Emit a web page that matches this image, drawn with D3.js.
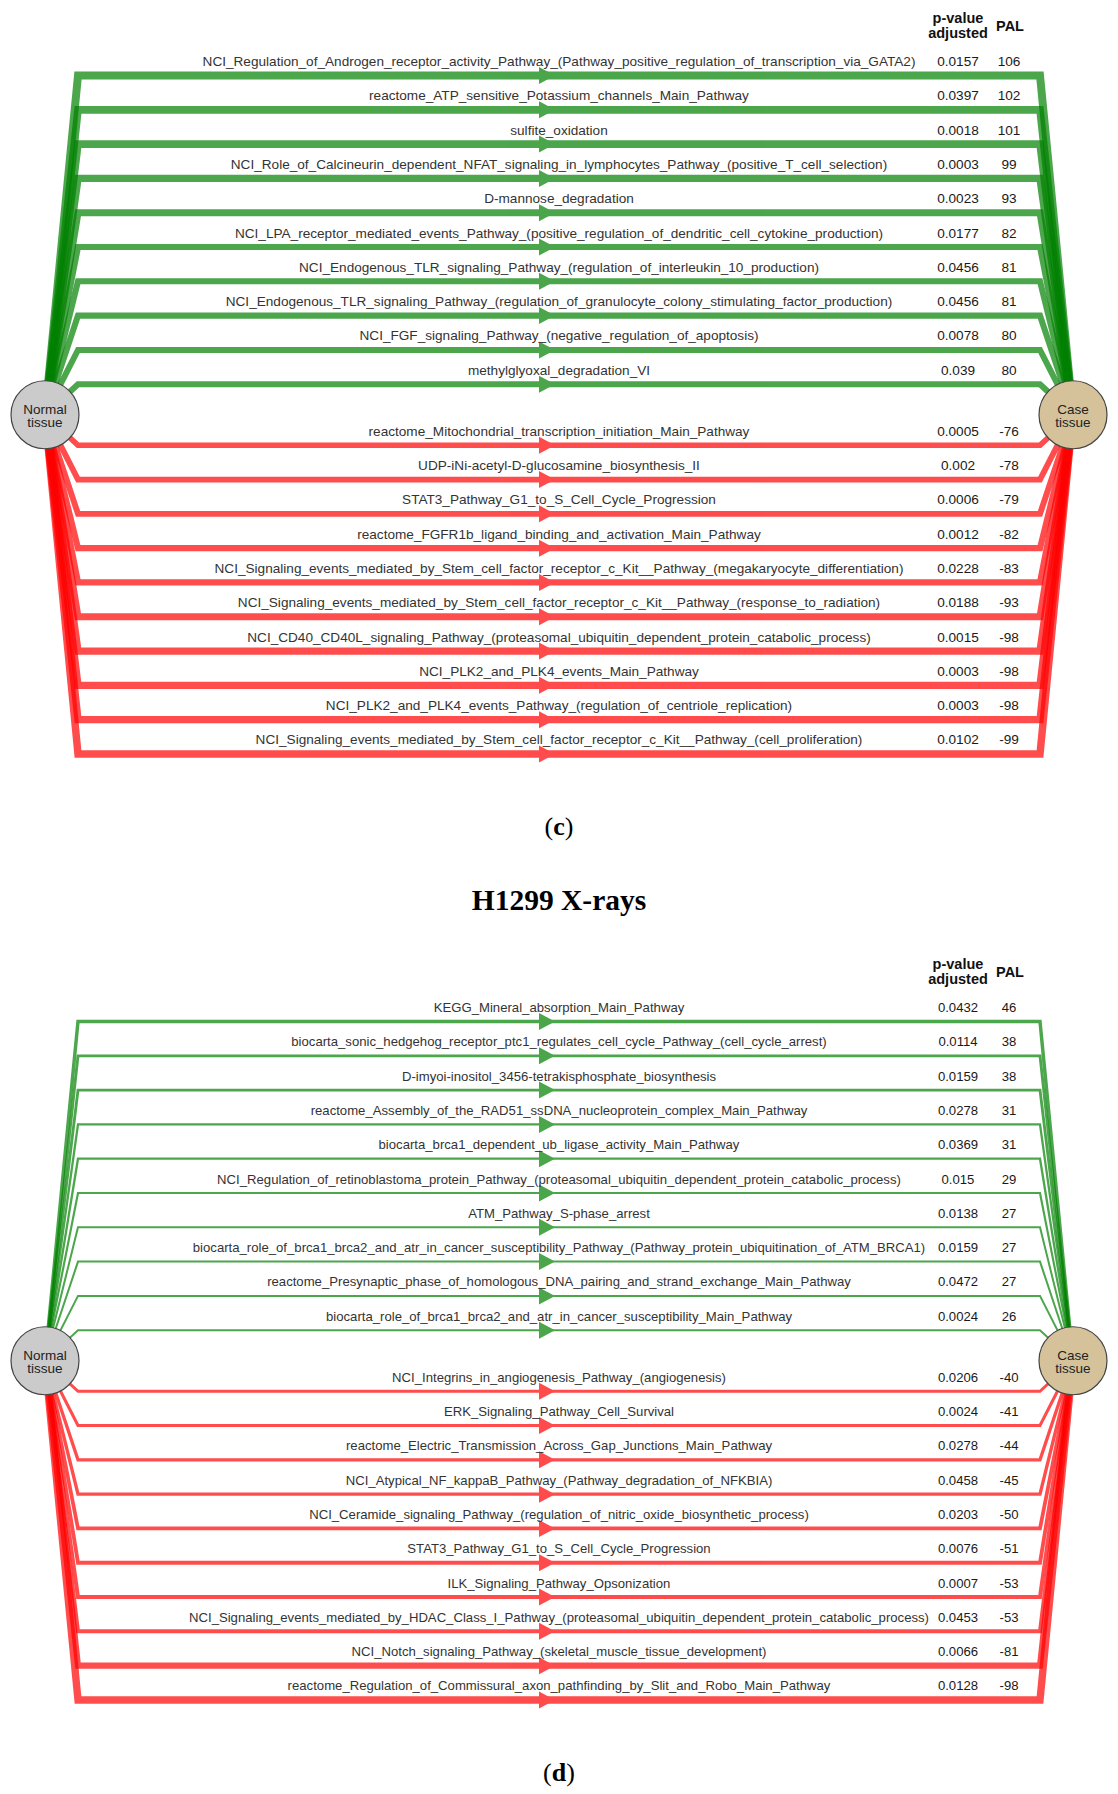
<!DOCTYPE html>
<html>
<head>
<meta charset="utf-8">
<script src="https://cdn.jsdelivr.net/npm/d3@7"></script>
<style>
  body { margin: 0; background: #fff; }
  svg { display: block; }
</style>
</head>
<body>
<div id="chart"></div>
<script>
// panel (c)
var c_pathways = [
    "NCI_Regulation_of_Androgen_receptor_activity_Pathway_(Pathway_positive_regulation_of_transcription_via_GATA2)",
    "reactome_ATP_sensitive_Potassium_channels_Main_Pathway",
    "sulfite_oxidation",
    "NCI_Role_of_Calcineurin_dependent_NFAT_signaling_in_lymphocytes_Pathway_(positive_T_cell_selection)",
    "D-mannose_degradation",
    "NCI_LPA_receptor_mediated_events_Pathway_(positive_regulation_of_dendritic_cell_cytokine_production)",
    "NCI_Endogenous_TLR_signaling_Pathway_(regulation_of_interleukin_10_production)",
    "NCI_Endogenous_TLR_signaling_Pathway_(regulation_of_granulocyte_colony_stimulating_factor_production)",
    "NCI_FGF_signaling_Pathway_(negative_regulation_of_apoptosis)",
    "methylglyoxal_degradation_VI",
    "reactome_Mitochondrial_transcription_initiation_Main_Pathway",
    "UDP-iNi-acetyl-D-glucosamine_biosynthesis_II",
    "STAT3_Pathway_G1_to_S_Cell_Cycle_Progression",
    "reactome_FGFR1b_ligand_binding_and_activation_Main_Pathway",
    "NCI_Signaling_events_mediated_by_Stem_cell_factor_receptor_c_Kit__Pathway_(megakaryocyte_differentiation)",
    "NCI_Signaling_events_mediated_by_Stem_cell_factor_receptor_c_Kit__Pathway_(response_to_radiation)",
    "NCI_CD40_CD40L_signaling_Pathway_(proteasomal_ubiquitin_dependent_protein_catabolic_process)",
    "NCI_PLK2_and_PLK4_events_Main_Pathway",
    "NCI_PLK2_and_PLK4_events_Pathway_(regulation_of_centriole_replication)",
    "NCI_Signaling_events_mediated_by_Stem_cell_factor_receptor_c_Kit__Pathway_(cell_proliferation)"
];
var c_pvalues = ["0.0157", "0.0397", "0.0018", "0.0003", "0.0023", "0.0177", "0.0456", "0.0456", "0.0078", "0.039",
                 "0.0005", "0.002", "0.0006", "0.0012", "0.0228", "0.0188", "0.0015", "0.0003", "0.0003", "0.0102"];
var c_pal = [106, 102, 101, 99, 93, 82, 81, 81, 80, 80,
             -76, -78, -79, -82, -83, -93, -98, -98, -98, -99];

// panel (d)
var d_pathways = [
    "KEGG_Mineral_absorption_Main_Pathway",
    "biocarta_sonic_hedgehog_receptor_ptc1_regulates_cell_cycle_Pathway_(cell_cycle_arrest)",
    "D-imyoi-inositol_3456-tetrakisphosphate_biosynthesis",
    "reactome_Assembly_of_the_RAD51_ssDNA_nucleoprotein_complex_Main_Pathway",
    "biocarta_brca1_dependent_ub_ligase_activity_Main_Pathway",
    "NCI_Regulation_of_retinoblastoma_protein_Pathway_(proteasomal_ubiquitin_dependent_protein_catabolic_process)",
    "ATM_Pathway_S-phase_arrest",
    "biocarta_role_of_brca1_brca2_and_atr_in_cancer_susceptibility_Pathway_(Pathway_protein_ubiquitination_of_ATM_BRCA1)",
    "reactome_Presynaptic_phase_of_homologous_DNA_pairing_and_strand_exchange_Main_Pathway",
    "biocarta_role_of_brca1_brca2_and_atr_in_cancer_susceptibility_Main_Pathway",
    "NCI_Integrins_in_angiogenesis_Pathway_(angiogenesis)",
    "ERK_Signaling_Pathway_Cell_Survival",
    "reactome_Electric_Transmission_Across_Gap_Junctions_Main_Pathway",
    "NCI_Atypical_NF_kappaB_Pathway_(Pathway_degradation_of_NFKBIA)",
    "NCI_Ceramide_signaling_Pathway_(regulation_of_nitric_oxide_biosynthetic_process)",
    "STAT3_Pathway_G1_to_S_Cell_Cycle_Progression",
    "ILK_Signaling_Pathway_Opsonization",
    "NCI_Signaling_events_mediated_by_HDAC_Class_I_Pathway_(proteasomal_ubiquitin_dependent_protein_catabolic_process)",
    "NCI_Notch_signaling_Pathway_(skeletal_muscle_tissue_development)",
    "reactome_Regulation_of_Commissural_axon_pathfinding_by_Slit_and_Robo_Main_Pathway"
];
var d_pvalues = ["0.0432", "0.0114", "0.0159", "0.0278", "0.0369", "0.015", "0.0138", "0.0159", "0.0472", "0.0024",
                 "0.0206", "0.0024", "0.0278", "0.0458", "0.0203", "0.0076", "0.0007", "0.0453", "0.0066", "0.0128"];
var d_pal = [46, 38, 38, 31, 31, 29, 27, 27, 27, 26,
             -40, -41, -44, -45, -50, -51, -53, -53, -81, -98];

var panel_labels = ["c", "d"];
var title = "H1299 X-rays";
var node_names = [["Normal", "tissue"], ["Case", "tissue"]];

const width = 1118;
const height = 1794;
const panel_offset = 946;
const x_left = 78, x_right = 1040;
const x_normal = 45, x_case = 1073, node_r = 34;
const x_pval = 958, x_pal = 1009;
const sans = "'Liberation Sans', Arial, Helvetica, sans-serif";
const serif = "'Liberation Serif', 'Times New Roman', serif";

var svg = d3.select("#chart")
    .append("svg")
    .attr("width", width)
    .attr("height", height);

// stroke width follows |PAL|
var widthScale = d3.scaleLinear().domain([0, 106]).range([0, 7.95]);

function buildRows(names, pvals, pal) {
    var rows = [];
    for (var i = 0; i < names.length; i++) {
        rows.push({
            name: names[i],
            p: pvals[i],
            pal: pal[i],
            // red block is pushed down a bit below the green block
            pos: pal[i] > 0 ? i : i + 0.78
        });
    }
    return rows;
}

function drawPanel(rows, top, label, labelSize) {
    var g = svg.append("g").attr("transform", "translate(0," + top + ")");

    var y = d3.scaleLinear().domain([0, 1]).range([75.5, 75.5 + 34.3]);
    var cy = y((9 + 10.78) / 2);
    var line = d3.line();

    // header
    var head = g.append("g")
        .style("font-family", sans)
        .style("font-weight", "bold")
        .style("font-size", "14.5px")
        .attr("fill", "#111")
        .attr("text-anchor", "middle");
    head.append("text").attr("x", x_pval).attr("y", 23).text("p-value");
    head.append("text").attr("x", x_pval).attr("y", 37.5).text("adjusted");
    head.append("text").attr("x", x_pal + 1).attr("y", 31).text("PAL");

    var edge = g.selectAll(".edge")
        .data(rows)
        .enter().append("g")
        .attr("class", "edge")
        .attr("opacity", 0.7);

    edge.append("path")
        .attr("d", function(d) {
            return line([[x_normal, cy], [x_left, y(d.pos)], [x_right, y(d.pos)], [x_case, cy]]);
        })
        .attr("fill", "none")
        .attr("stroke", function(d) { return d.pal > 0 ? "#008000" : "#ff0000"; })
        .attr("stroke-width", function(d) { return widthScale(Math.abs(d.pal)); })
        .attr("stroke-linejoin", "miter");

    edge.append("path")
        .attr("d", function(d) {
            var yy = y(d.pos);
            return "M539," + (yy - 8.5) + "L555," + yy + "L539," + (yy + 8.5) + "Z";
        })
        .attr("fill", function(d) { return d.pal > 0 ? "#008000" : "#ff0000"; });

    // nodes
    var nodes = g.selectAll(".node")
        .data([{ x: x_normal, fill: "#cbcbcb", name: node_names[0] },
               { x: x_case, fill: "#d5c29b", name: node_names[1] }])
        .enter().append("g")
        .attr("class", "node");
    nodes.append("circle")
        .attr("cx", function(d) { return d.x; })
        .attr("cy", cy)
        .attr("r", node_r)
        .attr("fill", function(d) { return d.fill; })
        .attr("stroke", "#444")
        .attr("stroke-width", 1.2);
    nodes.append("text")
        .attr("x", function(d) { return d.x; })
        .attr("y", cy - 1)
        .attr("text-anchor", "middle")
        .style("font-family", sans)
        .style("font-size", "13.5px")
        .attr("fill", "#222")
        .text(function(d) { return d.name[0]; });
    nodes.append("text")
        .attr("x", function(d) { return d.x; })
        .attr("y", cy + 12)
        .attr("text-anchor", "middle")
        .style("font-family", sans)
        .style("font-size", "13.5px")
        .attr("fill", "#222")
        .text(function(d) { return d.name[1]; });

    // row texts
    var rowText = g.selectAll(".rowtext")
        .data(rows)
        .enter().append("g")
        .attr("class", "rowtext")
        .style("font-family", sans)
        .attr("text-anchor", "middle");
    rowText.append("text")
        .attr("x", (x_left + x_right) / 2)
        .attr("y", function(d) { return y(d.pos) - 9.5; })
        .style("font-size", labelSize + "px")
        .attr("fill", "#333")
        .text(function(d) { return d.name; });
    rowText.append("text")
        .attr("x", x_pval)
        .attr("y", function(d) { return y(d.pos) - 9.5; })
        .style("font-size", labelSize + "px")
        .attr("fill", "#1a1a1a")
        .text(function(d) { return d.p; });
    rowText.append("text")
        .attr("x", x_pal)
        .attr("y", function(d) { return y(d.pos) - 9.5; })
        .style("font-size", labelSize + "px")
        .attr("fill", "#1a1a1a")
        .text(function(d) { return d.pal; });

    // panel letter
    var letter = g.append("text")
        .attr("x", 559)
        .attr("y", 835)
        .attr("text-anchor", "middle")
        .style("font-family", serif)
        .style("font-size", "26px")
        .attr("fill", "#000");
    letter.append("tspan").text("(");
    letter.append("tspan").style("font-weight", "bold").text(label);
    letter.append("tspan").text(")");
}

drawPanel(buildRows(c_pathways, c_pvalues, c_pal), 0, panel_labels[0], 13.6);
drawPanel(buildRows(d_pathways, d_pvalues, d_pal), panel_offset, panel_labels[1], 13.15);

svg.append("text")
    .attr("x", 559)
    .attr("y", 910)
    .attr("text-anchor", "middle")
    .style("font-family", serif)
    .style("font-weight", "bold")
    .style("font-size", "29.5px")
    .attr("fill", "#000")
    .text(title);
</script>
</body>
</html>
